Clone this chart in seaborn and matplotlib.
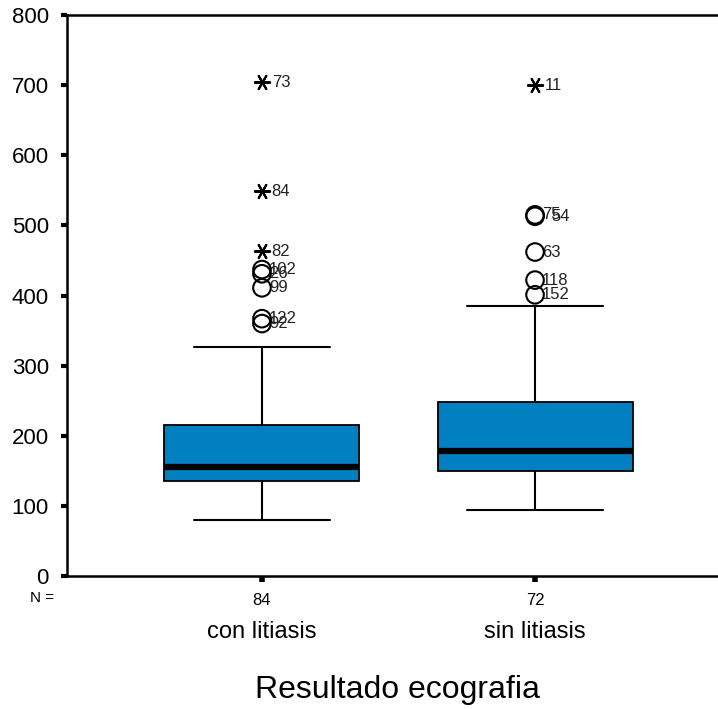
import numpy as np
import pandas as pd
import matplotlib
matplotlib.use("Agg")
import matplotlib.pyplot as plt
from matplotlib.transforms import blended_transform_factory
import seaborn as sns

# Box summary values
groups = ["con litiasis", "sin litiasis"]
n_cases = [84, 72]
q1 = [136, 150]
medians = [156, 178]
q3 = [215, 248]
whisker_low = [80, 94]
whisker_high = [327, 385]

# Outliers (circle) and extremes (asterisk) with their case numbers
out_group = [0, 0, 0, 0, 0, 0, 0, 0, 1, 1, 1, 1, 1, 1]
out_value = [704, 549, 463, 437, 431, 411, 367, 360, 700, 515, 513, 462, 422, 401]
out_case = ["73", "84", "82", "102", "26", "99", "122", "92",
            "11", "75", "54", "63", "118", "152"]
out_kind = ["extreme", "extreme", "extreme", "outlier", "outlier", "outlier", "outlier", "outlier",
            "extreme", "outlier", "outlier", "outlier", "outlier", "outlier"]
label_shift = [0, 0, 0, 0, 0, 0, 0, 0, 0, 0, 7, 0, 0, 0]

y_ticks = [0, 100, 200, 300, 400, 500, 600, 700, 800]

sns.set_style("white")
plt.rcParams["font.family"] = ["Liberation Sans", "DejaVu Sans"]
plt.rcParams["text.color"] = "black"
plt.rcParams["xtick.color"] = "black"
plt.rcParams["ytick.color"] = "black"

fig = plt.figure(figsize=(7.18, 7.09), dpi=100)
ax = fig.add_axes([0.0933, 0.1876, 0.9067, 0.7912])

stats = []
for i, g in enumerate(groups):
    stats.append({
        "label": g, "q1": q1[i], "med": medians[i], "q3": q3[i],
        "whislo": whisker_low[i], "whishi": whisker_high[i], "fliers": [],
    })

box_color = "#0080C0"
ax.bxp(
    stats, positions=range(len(groups)), widths=0.714, showfliers=False,
    patch_artist=True, manage_ticks=False,
    boxprops=dict(facecolor=box_color, edgecolor="black", linewidth=1.3),
    medianprops=dict(color="black", linewidth=4.5, solid_capstyle="butt"),
    whiskerprops=dict(color="black", linewidth=1.5),
    capprops=dict(color="black", linewidth=1.5),
    capwidths=0.495,
)

df_out = pd.DataFrame({"pos": out_group, "value": out_value, "case": out_case,
                       "kind": out_kind, "shift": label_shift})
circles = df_out[df_out["kind"] == "outlier"]
stars = df_out[df_out["kind"] == "extreme"]

sns.scatterplot(data=circles, x="pos", y="value", ax=ax, marker="o", s=160,
                facecolors="none", edgecolor="black", linewidth=1.5, zorder=5)
sns.scatterplot(data=stars, x="pos", y="value", ax=ax, marker=(6, 2, 90), s=120,
                color="black", linewidth=1.5, zorder=5)

for _, r in df_out.iterrows():
    dx = 5 if r["kind"] == "outlier" else 7
    ax.annotate(r["case"], (r["pos"], r["value"]), xytext=(dx + r["shift"], 0),
                textcoords="offset points", ha="left", va="center",
                fontsize=12, color="#222222")

ax.set_xlim(-0.714, 1.670)
ax.set_ylim(0, 800)
ax.set_yticks(y_ticks)
ax.set_yticklabels([str(t) for t in y_ticks], fontsize=16)
ax.set_xticks(range(len(groups)))
ax.set_xticklabels([str(n) for n in n_cases], fontsize=12)
ax.tick_params(axis="y", left=True, direction="out", length=4, width=3, pad=9)
ax.tick_params(axis="x", bottom=True, direction="out", length=4, width=4, pad=8)
ax.set_xlabel("")
ax.set_ylabel("")

for side in ["left", "bottom", "top"]:
    ax.spines[side].set_visible(True)
    ax.spines[side].set_color("black")
    ax.spines[side].set_linewidth(1.8)
ax.spines["right"].set_visible(False)

trans = blended_transform_factory(ax.transData, ax.transAxes)
for i, g in enumerate(groups):
    ax.text(i, -0.10, g, transform=trans, ha="center", va="center", fontsize=17)
ax.text(-0.038, -0.040, "N =", transform=ax.transAxes, ha="center", va="center", fontsize=11)
ax.text(0.507, -0.203, "Resultado ecografia", transform=ax.transAxes,
        ha="center", va="center", fontsize=23)

fig.savefig("out.png", dpi=100)
